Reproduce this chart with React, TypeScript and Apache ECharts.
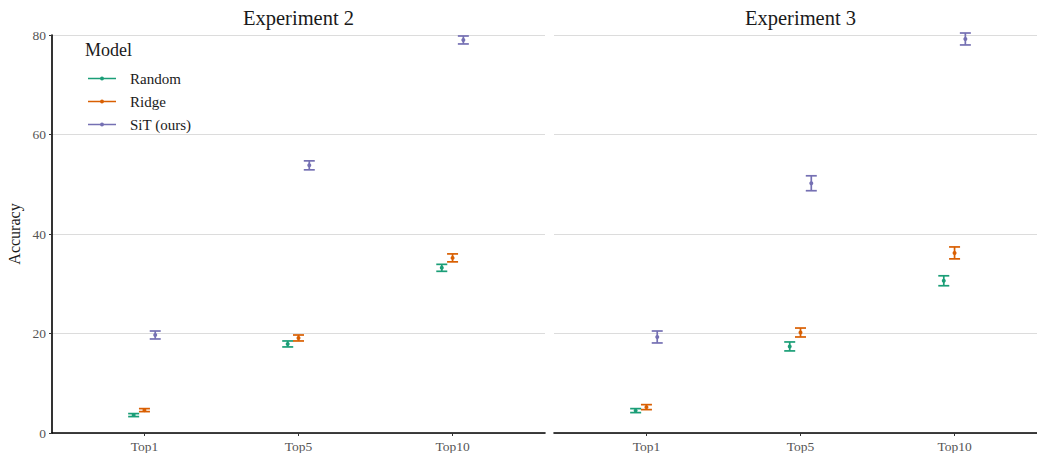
import React, { useEffect, useRef } from "react";
import * as echarts from "echarts";

const categories = ["Top1", "Top5", "Top10"];
const models = ["Random", "Ridge", "SiT (ours)"];
const colors = ["#1B9E77", "#D95F02", "#7570B3"];
const panels = ["Experiment 2", "Experiment 3"];
const yTicks = [0, 20, 40, 60, 80];

// Experiment 2
const exp2Random = [3.6, 17.9, 33.2];
const exp2RandomErr = [0.3, 0.6, 0.7];
const exp2Ridge = [4.6, 19.1, 35.2];
const exp2RidgeErr = [0.3, 0.6, 0.8];
const exp2SiT = [19.7, 53.8, 79.0];
const exp2SiTErr = [0.8, 0.9, 0.8];

// Experiment 3
const exp3Random = [4.5, 17.4, 30.6];
const exp3RandomErr = [0.4, 0.9, 1.0];
const exp3Ridge = [5.2, 20.2, 36.2];
const exp3RidgeErr = [0.5, 0.9, 1.2];
const exp3SiT = [19.3, 50.2, 79.2];
const exp3SiTErr = [1.2, 1.5, 1.2];

const FONT = "'Liberation Serif', 'Times New Roman', serif";
const dodge = [-0.07, 0, 0.07];

export default function App() {
  const ref = useRef<HTMLDivElement>(null);
  useEffect(() => {
    if (!ref.current) return;
    const chart = echarts.init(ref.current, undefined, { renderer: "svg" });

    const panelData = [
      [
        [exp2Random, exp2RandomErr],
        [exp2Ridge, exp2RidgeErr],
        [exp2SiT, exp2SiTErr],
      ],
      [
        [exp3Random, exp3RandomErr],
        [exp3Ridge, exp3RidgeErr],
        [exp3SiT, exp3SiTErr],
      ],
    ];

    const series: any[] = [];
    panelData.forEach((pd, pi) => {
      pd.forEach(([means, errs], mi) => {
        const color = colors[mi];
        const off = dodge[mi];
        series.push({
          type: "custom",
          name: models[mi],
          xAxisIndex: pi,
          yAxisIndex: pi,
          itemStyle: { color },
          data: means.map((m, ci) => [ci + 1, m, m - errs[ci], m + errs[ci]]),
          renderItem: (params: any, api: any) => {
            const x = api.value(0) + off;
            const pc = api.coord([x, api.value(1)]);
            const pl = api.coord([x, api.value(2)]);
            const ph = api.coord([x, api.value(3)]);
            const hw = 5.5;
            const st = { stroke: color, lineWidth: 1.7 };
            return {
              type: "group",
              children: [
                { type: "line", shape: { x1: pl[0], y1: pl[1], x2: ph[0], y2: ph[1] }, style: st },
                { type: "line", shape: { x1: pl[0] - hw, y1: pl[1], x2: pl[0] + hw, y2: pl[1] }, style: st },
                { type: "line", shape: { x1: ph[0] - hw, y1: ph[1], x2: ph[0] + hw, y2: ph[1] }, style: st },
                { type: "circle", shape: { cx: pc[0], cy: pc[1], r: 2 }, style: { fill: color } },
              ],
            };
          },
        });
      });
    });

    // right panel is cropped at the page edge: its visible part covers 483 of 493 px
    const xMax = [3.6, 0.4 + (3.2 * 483) / 493];

    const xAxisBase = (gi: number) => ({
      type: "value",
      gridIndex: gi,
      min: 0.4,
      max: xMax[gi],
      splitLine: { show: false },
      axisLine: { show: true, onZero: false, lineStyle: { color: "#000", width: 1.6 } },
      axisTick: {
        show: true,
        customValues: [1, 2, 3],
        length: 3,
        lineStyle: { color: "#333", width: 1 },
      },
      axisLabel: {
        customValues: [1, 2, 3],
        formatter: (v: number) => categories[Math.round(v) - 1] ?? "",
        color: "#555",
        fontSize: 13.5,
        fontFamily: FONT,
        margin: 6,
      },
    });

    const yAxisBase = (gi: number) => ({
      type: "value",
      gridIndex: gi,
      min: 0,
      max: 80,
      interval: 20,
      splitLine: { show: true, lineStyle: { color: "#dcdcdc", width: 1 } },
      axisLine: { show: gi === 0, lineStyle: { color: "#000", width: 1.6 } },
      axisTick: { show: gi === 0, length: 3, lineStyle: { color: "#333", width: 1 } },
      axisLabel: {
        show: gi === 0,
        color: "#555",
        fontSize: 13.5,
        fontFamily: FONT,
        margin: 6,
        formatter: (v: number) => (yTicks.includes(v) ? String(v) : ""),
      },
      name: gi === 0 ? "Accuracy" : "",
      nameLocation: "middle",
      nameGap: 30,
      nameTextStyle: { color: "#1a1a1a", fontSize: 16, fontFamily: FONT },
    });

    const iconPath =
      "path://M0,2.3 L28,2.3 L28,3.7 L0,3.7 Z M12,3 A2,2 0 1,1 16,3 A2,2 0 1,1 12,3 Z";

    chart.setOption({
      animation: false,
      textStyle: { fontFamily: FONT },
      grid: [
        { left: 52, top: 35, width: 493, height: 398 },
        { left: 554, top: 35, width: 483, height: 398 },
      ],
      xAxis: [xAxisBase(0), xAxisBase(1)],
      yAxis: [yAxisBase(0), yAxisBase(1)],
      legend: {
        data: models.map((m) => ({ name: m, icon: iconPath })),
        orient: "vertical",
        left: 88,
        top: 71,
        padding: 0,
        itemWidth: 28,
        itemHeight: 6,
        itemGap: 8,
        textStyle: { color: "#1a1a1a", fontSize: 15, fontFamily: FONT, padding: [0, 0, 0, 9] },
        selectedMode: false,
      },
      graphic: [
        {
          type: "text",
          x: 298.5,
          y: 18,
          style: { text: panels[0], textAlign: "center", textVerticalAlign: "middle", fontSize: 20.5, fontFamily: FONT, fill: "#1a1a1a" },
        },
        {
          type: "text",
          x: 800.5,
          y: 18,
          style: { text: panels[1], textAlign: "center", textVerticalAlign: "middle", fontSize: 20.5, fontFamily: FONT, fill: "#1a1a1a" },
        },
        {
          type: "text",
          x: 85,
          y: 50,
          style: { text: "Model", textAlign: "left", textVerticalAlign: "middle", fontSize: 18, fontFamily: FONT, fill: "#1a1a1a" },
        },
      ],
      series,
    });

    return () => chart.dispose();
  }, []);

  return (
    <div
      ref={ref}
      style={{ position: "absolute", left: 0, top: 0, width: 1037, height: 453, background: "#fff" }}
    />
  );
}
